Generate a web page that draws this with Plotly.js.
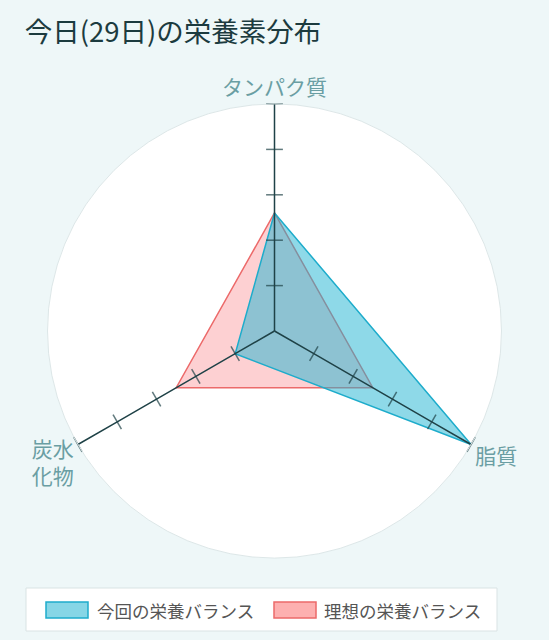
<!DOCTYPE html>
<html>
<head>
<meta charset="utf-8">
<script src="https://cdn.plot.ly/plotly-3.0.1.min.js"></script>
<style>
  html, body { margin: 0; padding: 0; background: #eef7f8; }
  #chart { width: 549px; height: 640px; }
</style>
</head>
<body>
<div id="chart"></div>
<script>
const nutrients = ["タンパク質", "脂質", "炭水化物"];
const nutrientLabels = ["タンパク質", "脂質", "炭水<br>化物"];
const todayBalance = [2.6, 5, 1];
const idealBalance = [2.6, 2.5, 2.5];
const axisTicks = [1, 2, 3, 4, 5];
const seriesNames = ["今回の栄養バランス", "理想の栄養バランス"];

const dark = "#1f4247",
  blue = "#1eaccb",
  red = "#ec6a6a";
const jp = "'Noto Sans CJK JP', 'Noto Sans', sans-serif";

// close the polygon so the outline joins up
const closed = (vals) => vals.concat(vals[0]);
const closedTheta = closed(nutrients);

// perpendicular tick direction for each spoke (clockwise degrees)
const tickAngle = [0, -60, 60];

const axisTraces = nutrients.map((n, i) => ({
  type: "scatterpolar",
  r: [0].concat(axisTicks),
  theta: [0].concat(axisTicks).map(() => n),
  mode: "lines+markers",
  line: { color: dark, width: 1.5 },
  marker: {
    symbol: "line-ew",
    size: [0].concat(axisTicks.map(() => 12)),
    angle: tickAngle[i],
    line: { color: dark, width: 1.5 },
  },
  hoverinfo: "skip",
  showlegend: false,
}));

const data = [
  {
    type: "scatterpolar",
    name: seriesNames[1],
    r: closed(idealBalance),
    theta: closedTheta,
    fill: "toself",
    fillcolor: "rgba(250,120,125,0.35)",
    line: { color: red, width: 1.5 },
    mode: "lines",
    showlegend: false,
  },
  {
    type: "scatterpolar",
    name: seriesNames[0],
    r: closed(todayBalance),
    theta: closedTheta,
    fill: "toself",
    fillcolor: "rgba(30,180,210,0.5)",
    line: { color: blue, width: 1.5 },
    mode: "lines",
    showlegend: false,
  },
  ...axisTraces,
];

// legend drawn by hand (paper coords: plot area is y 104..558 px)
const px = (x) => x / 549;
const py = (y) => (558 - y) / 454;
const legendShapes = [
  { type: "rect", xref: "paper", yref: "paper", x0: px(26), x1: px(497), y0: py(631), y1: py(588),
    fillcolor: "#ffffff", line: { color: "#d9e3e4", width: 1 } },
  { type: "rect", xref: "paper", yref: "paper", x0: px(46), x1: px(88), y0: py(618), y1: py(602),
    fillcolor: "#86d6e6", line: { color: blue, width: 1.5 } },
  { type: "rect", xref: "paper", yref: "paper", x0: px(274), x1: px(316), y0: py(618), y1: py(602),
    fillcolor: "#fdb0b0", line: { color: red, width: 1.5 } },
];
const legendText = [
  { x: px(95), text: seriesNames[0] },
  { x: px(322), text: seriesNames[1] },
].map((a) => ({
  ...a,
  xref: "paper",
  yref: "paper",
  y: py(610),
  xanchor: "left",
  yanchor: "middle",
  showarrow: false,
  font: { family: jp, size: 17.5, color: "#555" },
}));

const layout = {
  width: 549,
  height: 640,
  paper_bgcolor: "#eef7f8",
  margin: { t: 104, b: 82, l: 0, r: 0 },
  font: { family: jp, size: 17, color: "#555" },
  showlegend: false,
  title: {
    text: "今日(29日)の栄養素分布",
    font: { family: jp, size: 27.5, color: "#1c3b3f" },
    xref: "container",
    yref: "container",
    x: 0.045,
    xanchor: "left",
    y: 0.95,
    yanchor: "middle",
  },
  polar: {
    bgcolor: "#ffffff",
    angularaxis: {
      type: "category",
      categoryarray: nutrients,
      tickvals: nutrients,
      ticktext: nutrientLabels,
      rotation: 90,
      direction: "clockwise",
      showgrid: false,
      showline: true,
      linecolor: "#dde7e8",
      ticks: "",
      tickfont: { family: jp, size: 21, color: "#6a9ea3" },
    },
    radialaxis: {
      range: [0, 5],
      showline: false,
      showgrid: false,
      showticklabels: false,
      ticks: "",
    },
  },
  shapes: legendShapes,
  annotations: legendText,
};

Plotly.newPlot("chart", data, layout, { displayModeBar: false });
</script>
</body>
</html>
